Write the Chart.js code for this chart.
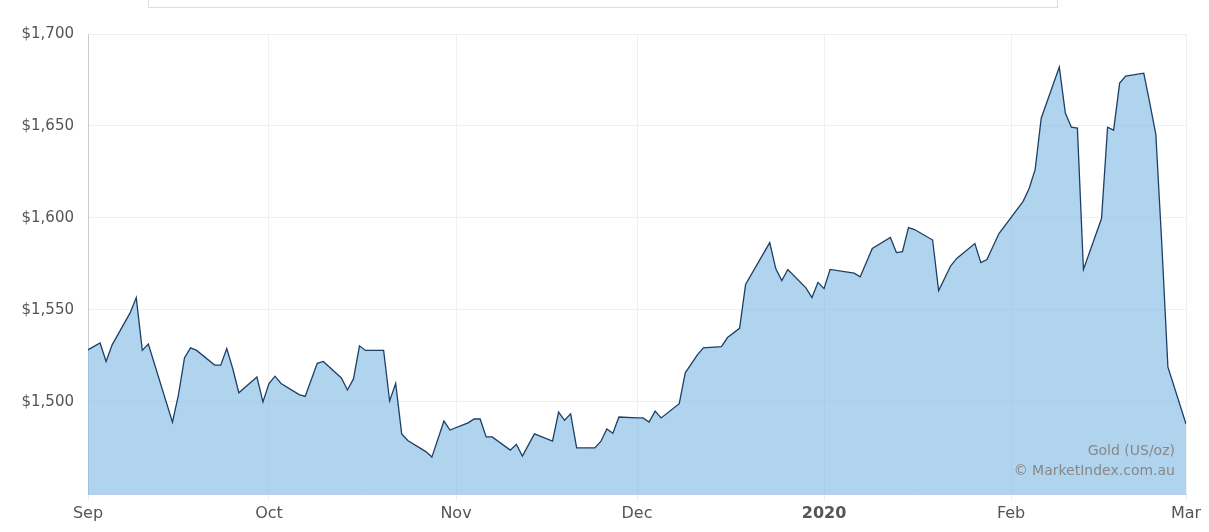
<!DOCTYPE html>
<html><head><meta charset="utf-8">
<script src="https://cdn.jsdelivr.net/npm/chart.js@4/dist/chart.umd.min.js"></script>
<style>
html,body{margin:0;padding:0;background:#fff;}
#wrap{position:relative;width:1209px;height:532px;}
#box{position:absolute;left:148px;top:-2px;width:908px;height:9px;border:1px solid #ddd;border-top:none;}
#credit{position:absolute;right:34px;top:440px;text-align:right;font:14px "DejaVu Sans",sans-serif;color:#888;line-height:20px;}
</style></head><body>
<div id="wrap"><canvas id="c" width="1209" height="532"></canvas><div id="box"></div>
<div id="credit">Gold (US/oz)<br>© MarketIndex.com.au</div></div>
<script>
const xPix=[91,103,109,115,133,139,145,151,175,181,187,193,199,217,223,229,235,241,259,265,271,277,283,301,307,319,325,343,349,355,361,367,385,391,397,403,409,427,433,445,451,469,475,481,487,493,511,517,523,535,553,559,565,571,577,595,601,607,613,619,637,643,649,655,661,679,685,697,703,721,727,739,745,769,775,781,787,805,811,817,823,829,853,859,871,889,895,901,907,913,931,937,949,955,973,979,985,991,997,1021,1027,1033,1039,1057,1063,1069,1075,1081,1099,1105,1111,1117,1123,1141,1147,1153,1159,1165,1183];
const days=xPix.map(x=>(x-91)/6);
const prices=[1528.3,1532,1522,1531,1548.5,1556.7,1528,1531.5,1489,1504,1524,1529.4,1528,1520,1520,1529,1518,1505,1513.6,1500,1510,1514,1510,1504,1503,1521,1522,1513,1506.5,1512.5,1530.5,1528,1528,1500.5,1510,1482.6,1479,1473,1470,1489.6,1484.7,1488.6,1490.7,1490.7,1481,1481,1473.8,1477,1470.6,1482.6,1478.7,1494.5,1490,1493.5,1475,1475,1478.5,1485.3,1483,1491.8,1491.3,1491.3,1489,1495,1491.3,1499,1515.8,1525.6,1529.4,1530,1535,1540,1563.8,1586.6,1572.5,1566,1572,1562,1556.7,1565,1561.6,1572,1570,1568,1583.4,1589.4,1581.2,1581.7,1594.8,1593.7,1588,1560.5,1574,1578,1586.1,1575.7,1577.4,1584.5,1591.5,1609,1616,1626.4,1654.2,1682,1657,1649.3,1648.8,1572,1599.7,1649.3,1647.7,1673.3,1677.1,1678.7,1662.4,1645.5,1585,1519,1488];
const monthDays=[0,30,61,91,122,153,182];
const monthLabels=['Sep','Oct','Nov','Dec','2020','Feb','Mar'];
const yTicks=[1500,1550,1600,1650,1700];
new Chart(document.getElementById('c'),{
type:'line',
data:{datasets:[{data:days.map((d,i)=>({x:d,y:prices[i]})),borderColor:'#1d3f66',borderWidth:1.3,backgroundColor:'rgba(124,181,226,0.6)',fill:'start',pointRadius:0,tension:0}]},
options:{responsive:false,animation:false,
layout:{padding:{left:0,right:23,top:34,bottom:6}},
plugins:{legend:{display:false},tooltip:{enabled:false}},
scales:{
x:{type:'linear',min:0,max:182,
afterBuildTicks:a=>{a.ticks=monthDays.map(v=>({value:v}));},
ticks:{autoSkip:false,maxRotation:0,color:'#555',font:c=>({family:'"DejaVu Sans"',size:16,weight:c.index===4?'bold':'normal'}),callback:(v,i)=>monthLabels[i]},
grid:{color:'#f0f0f0',drawTicks:true,tickLength:6},border:{color:'#ccd6eb'}},
y:{min:1449.5,max:1700,afterFit:a=>{a.width=88;},
afterBuildTicks:a=>{a.ticks=yTicks.map(v=>({value:v}));},
ticks:{color:'#555',font:{family:'"DejaVu Sans"',size:15},callback:v=>'$'+v.toLocaleString('en-US'),padding:14},
grid:{color:'#f0f0f0',drawTicks:false},border:{color:'#ccc'}}
}}});
</script></body></html>
